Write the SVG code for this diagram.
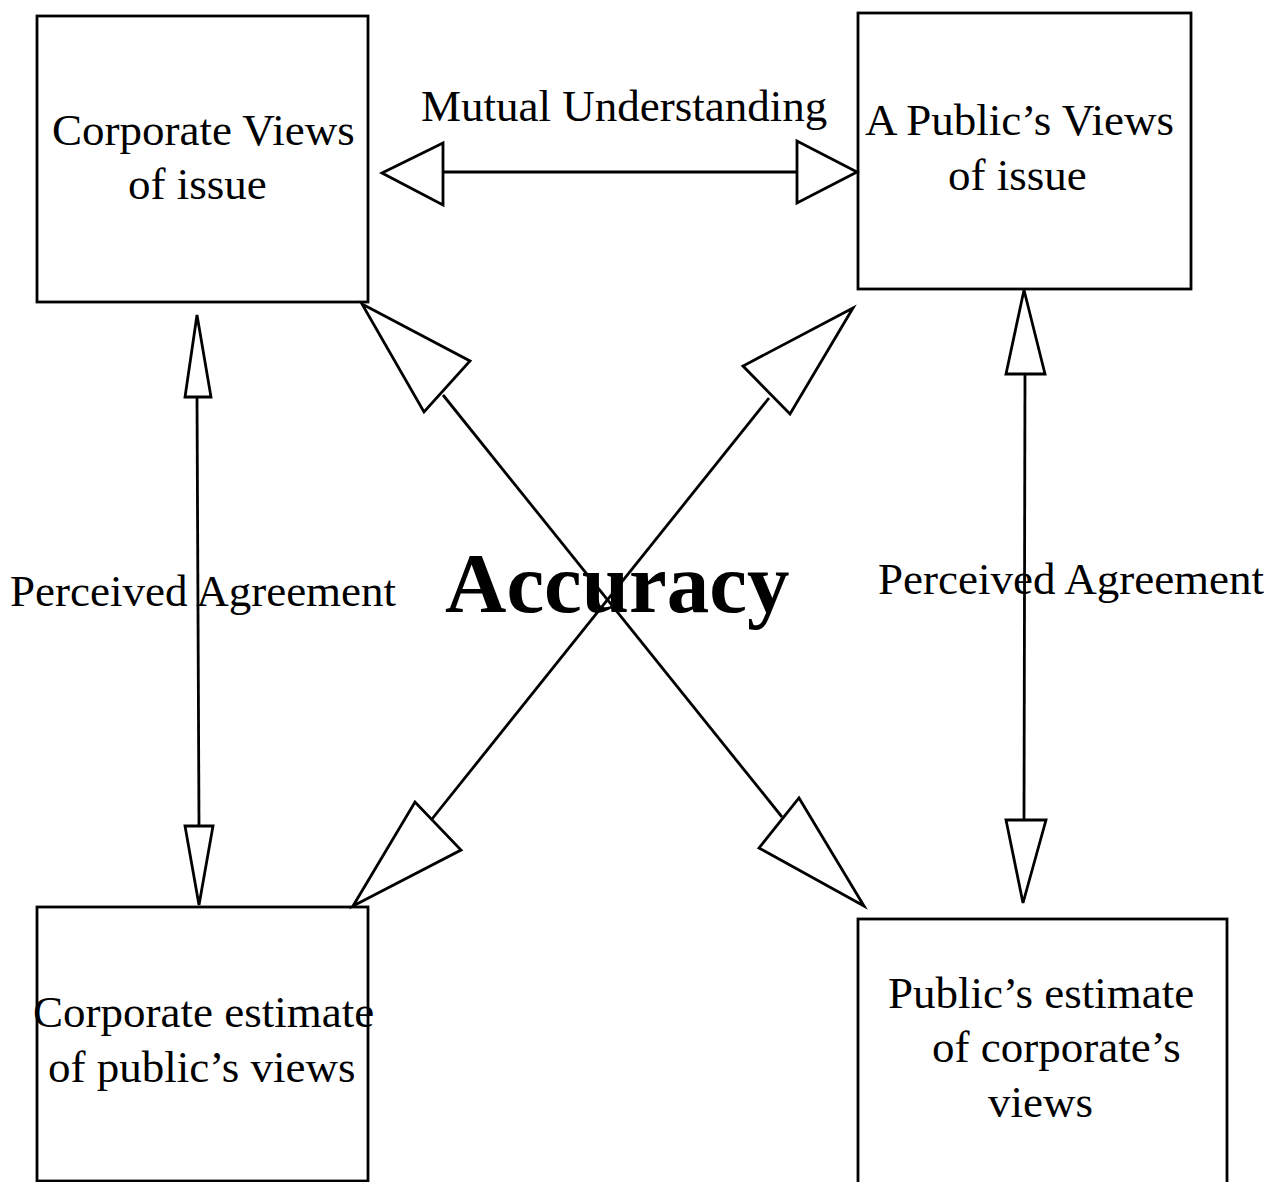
<svg xmlns="http://www.w3.org/2000/svg" width="1273" height="1182" viewBox="0 0 1273 1182">
<style>
.box{fill:none;stroke:#000;stroke-width:2.8}
.ln{fill:none;stroke:#000;stroke-width:2.8}
.hd{fill:#fff;stroke:#000;stroke-width:2.8;stroke-linejoin:miter}
.t{font-family:"Liberation Serif","Times New Roman",serif;font-size:45px;fill:#000}
.big{font-family:"Liberation Serif","Times New Roman",serif;font-size:85px;font-weight:bold;fill:#000}
</style>
<rect width="1273" height="1182" fill="#fff"/>
<g id="labels">
<text class="t" x="421" y="121">Mutual Understanding</text>
<text class="t" x="10" y="606">Perceived Agreement</text>
<text class="t" x="878" y="594">Perceived Agreement</text>
<text class="big" x="445" y="612">Accuracy</text>
</g>
<g id="connectors">
<line class="ln" x1="443" y1="172" x2="797" y2="172"/>
<polygon class="hd" points="382,173 443,143 443,205"/>
<polygon class="hd" points="857,172 797,141 797,203"/>
<line class="ln" x1="197" y1="397" x2="199" y2="826"/>
<polygon class="hd" points="197,315 185,397 211,397"/>
<polygon class="hd" points="199,905 185,826 213,826"/>
<line class="ln" x1="1025" y1="374" x2="1024" y2="820"/>
<polygon class="hd" points="1024,290 1006,374 1045,374"/>
<polygon class="hd" points="1023,903 1006,820 1046,820"/>
<line class="ln" x1="443" y1="395" x2="782" y2="817"/>
<line class="ln" x1="769" y1="398" x2="432" y2="819"/>
<polygon class="hd" points="362,304 470,361 424,412"/>
<polygon class="hd" points="853,308 743,366 790,414"/>
<polygon class="hd" points="353,906 415,802 461,850"/>
<polygon class="hd" points="864,906 799,798 759,848"/>
</g>
<g id="node-corporate-views">
<rect class="box" x="37" y="16" width="331" height="286"/>
<text class="t" x="52" y="145">Corporate Views</text>
<text class="t" x="128" y="199">of issue</text>
</g>
<g id="node-public-views">
<rect class="box" x="858" y="13" width="333" height="276"/>
<text class="t" x="865" y="135">A Public’s Views</text>
<text class="t" x="948" y="190">of issue</text>
</g>
<g id="node-corporate-estimate">
<rect class="box" x="37" y="907" width="331" height="274"/>
<text class="t" x="33" y="1027">Corporate estimate</text>
<text class="t" x="48" y="1082">of public’s views</text>
</g>
<g id="node-public-estimate">
<rect class="box" x="858" y="919" width="369" height="280"/>
<text class="t" x="888" y="1008">Public’s estimate</text>
<text class="t" x="932" y="1062">of corporate’s</text>
<text class="t" x="988" y="1117">views</text>
</g>
</svg>
